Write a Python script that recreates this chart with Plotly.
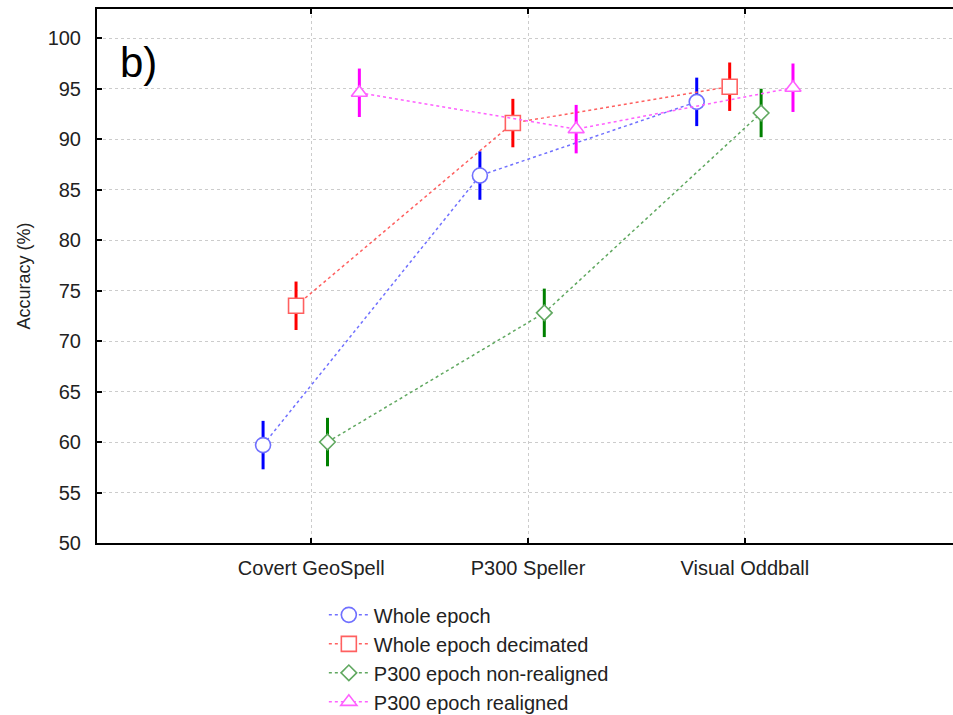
import plotly.graph_objects as go

# Experimental paradigms on the x axis
categories = ["Covert GeoSpell", "P300 Speller", "Visual Oddball"]

# Mean classification accuracy (%) per feature set
whole_epoch = [59.7, 86.4, 93.7]
whole_epoch_decimated = [73.5, 91.6, 95.2]
p300_non_realigned = [60.0, 72.8, 92.6]
p300_realigned = [94.6, 91.0, 95.1]

# Half-width of the confidence interval (%)
whole_epoch_ci = [2.4, 2.4, 2.4]
whole_epoch_decimated_ci = [2.4, 2.4, 2.4]
p300_non_realigned_ci = [2.4, 2.4, 2.4]
p300_realigned_ci = [2.4, 2.4, 2.4]

y_ticks = [50, 55, 60, 65, 70, 75, 80, 85, 90, 95, 100]

series = [
    dict(name="Whole epoch", y=whole_epoch, err=whole_epoch_ci, shift=-0.222,
         line="#7070ff", bar="#0000ff", symbol="circle", size=15),
    dict(name="Whole epoch decimated", y=whole_epoch_decimated, err=whole_epoch_decimated_ci,
         shift=-0.07, line="#ff6060", bar="#ff0000", symbol="square", size=15),
    dict(name="P300 epoch non-realigned", y=p300_non_realigned, err=p300_non_realigned_ci,
         shift=0.075, line="#60a860", bar="#008000", symbol="diamond", size=12),
    dict(name="P300 epoch realigned", y=p300_realigned, err=p300_realigned_ci, shift=0.222,
         line="#ff60ff", bar="#ff00ff", symbol="triangle-up", size=14),
]

fig = go.Figure()
for s in series:
    xs = [i + 1 + s["shift"] for i in range(len(categories))]
    fig.add_trace(go.Scatter(
        x=xs, y=s["y"], name=s["name"], mode="lines+markers",
        line=dict(color=s["line"], width=1.5, dash="dot"),
        marker=dict(symbol=s["symbol"], size=s["size"], color="white",
                    line=dict(width=1.6, color=s["line"])),
        error_y=dict(type="data", array=s["err"], visible=True,
                     color=s["bar"], thickness=3, width=0),
    ))

fig.add_annotation(text="b)", x=0.024, y=0.899, xref="paper", yref="paper",
                   xanchor="left", yanchor="middle", showarrow=False,
                   font=dict(size=42, color="black"))

fig.update_layout(
    width=953, height=715,
    margin=dict(l=97, r=0, t=9, b=172, autoexpand=False),
    paper_bgcolor="white", plot_bgcolor="white",
    font=dict(family="Liberation Sans, Arial, sans-serif", size=20, color="#222"),
    showlegend=True,
    legend=dict(x=0.265, y=-0.098, xanchor="left", yanchor="top",
                font=dict(size=20, color="#222"), tracegroupgap=0,
                itemwidth=40, bgcolor="rgba(0,0,0,0)"),
)

fig.update_xaxes(
    range=[0.012, 3.96],
    tickmode="array", tickvals=[1, 2, 3], ticktext=categories,
    showline=True, linecolor="black", linewidth=2, mirror="ticks",
    ticks="inside", ticklen=5, tickcolor="black", tickwidth=2,
    showgrid=True, gridcolor="#cccccc", griddash="dot", gridwidth=1,
    zeroline=False, tickfont=dict(size=20), ticklabelstandoff=6,
)
fig.update_yaxes(
    range=[50, 102.9],
    tickmode="array", tickvals=y_ticks,
    title=dict(text="Accuracy (%)", font=dict(size=18), standoff=12),
    showline=True, linecolor="black", linewidth=2, mirror=False,
    ticks="inside", ticklen=5, tickcolor="black", tickwidth=2,
    showgrid=True, gridcolor="#cccccc", griddash="dot", gridwidth=1,
    zeroline=False, tickfont=dict(size=20), ticklabelstandoff=10,
)

fig.write_html("out.html")
